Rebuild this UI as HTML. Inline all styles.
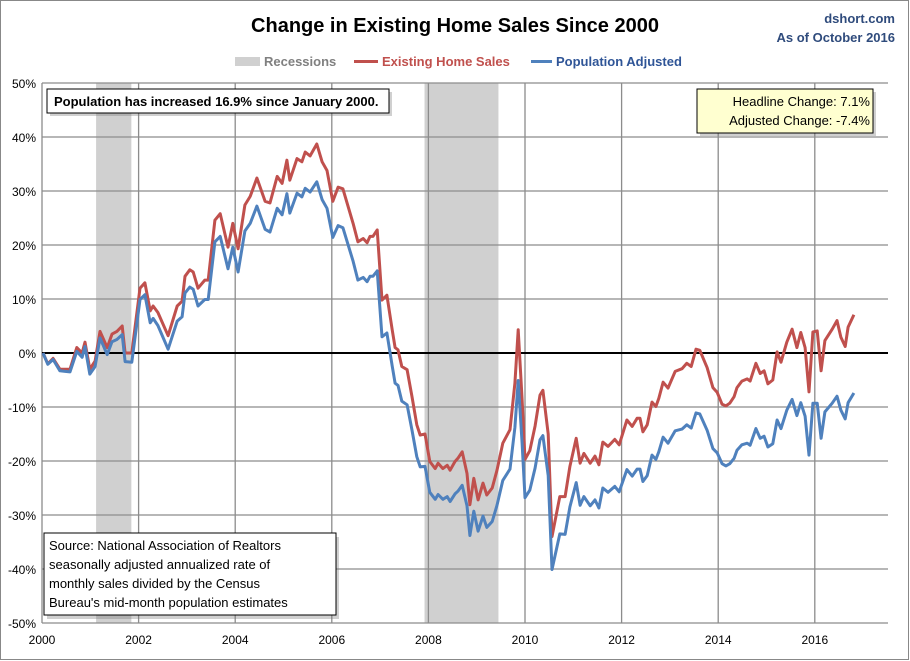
<!DOCTYPE html>
<html><head><meta charset="utf-8"><style>
body{margin:0;background:#fff;}
svg{display:block;font-family:"Liberation Sans",sans-serif;}
</style></head><body>
<svg id="chart" width="910" height="661" xmlns="http://www.w3.org/2000/svg">
<rect x="0.5" y="0.5" width="908" height="659" fill="#fff" stroke="#888"/>
<text x="455" y="32" text-anchor="middle" font-size="20" font-weight="bold" fill="#000">Change in Existing Home Sales Since 2000</text>
<text x="895" y="23" text-anchor="end" font-size="13" font-weight="bold" fill="#2F4B7C">dshort.com</text>
<text x="895" y="42" text-anchor="end" font-size="13" font-weight="bold" fill="#2F4B7C">As of October 2016</text>
<g id="legend">
<rect x="235" y="57" width="25" height="9" fill="#d0d0d0"/>
<text x="264" y="66" font-size="13" font-weight="bold" fill="#808080">Recessions</text>
<line x1="354" y1="61.5" x2="378" y2="61.5" stroke="#C0504D" stroke-width="3"/>
<text x="382" y="66" font-size="13" font-weight="bold" fill="#C0504D">Existing Home Sales</text>
<line x1="531" y1="61.5" x2="552" y2="61.5" stroke="#4F81BD" stroke-width="3"/>
<text x="556" y="66" font-size="13" font-weight="bold" fill="#2F5597">Population Adjusted</text>
</g>
<g id="plot"></g>
<g>
<rect x="50" y="92" width="342" height="24" fill="#777" opacity="0.35"/>
<rect x="47" y="89" width="342" height="24" fill="#fff" stroke="#000" stroke-width="1"/>
<text x="54" y="106" font-size="13" font-weight="bold" fill="#000">Population has increased 16.9% since January 2000.</text>
</g>
<g>
<rect x="700" y="92" width="176" height="44" fill="#777" opacity="0.35"/>
<rect x="697" y="89" width="176" height="44" fill="#FFFFD0" stroke="#000" stroke-width="1"/>
<text x="870" y="106" text-anchor="end" font-size="13" fill="#000">Headline Change: 7.1%</text>
<text x="870" y="125" text-anchor="end" font-size="13" fill="#000">Adjusted Change: -7.4%</text>
</g>
<g>
<rect x="47" y="537" width="292" height="82" fill="#777" opacity="0.35"/>
<rect x="44" y="533" width="292" height="82" fill="#fff" stroke="#000" stroke-width="1"/>
<text x="49" y="550" font-size="13" fill="#000">Source: National Association of Realtors</text>
<text x="49" y="569" font-size="13" fill="#000">seasonally adjusted annualized rate of</text>
<text x="49" y="588" font-size="13" fill="#000">monthly sales divided by the Census</text>
<text x="49" y="607" font-size="13" fill="#000">Bureau's mid-month population estimates</text>
</g>
</svg>
<script>
const recStarts = [2001.12, 2007.92];
const recEnds = [2001.85, 2009.45];
const yTicks = [50,40,30,20,10,0,-10,-20,-30,-40,-50];
const yTickLabels = ["50%","40%","30%","20%","10%","0%","-10%","-20%","-30%","-40%","-50%"];
const xTicks = [2000,2002,2004,2006,2008,2010,2012,2014,2016];
const xTickLabels = ["2000","2002","2004","2006","2008","2010","2012","2014","2016"];
const dates = [2000.02,2000.12,2000.23,2000.37,2000.48,2000.58,2000.72,2000.83,2000.89,2000.99,2001.1,2001.2,2001.35,2001.45,2001.55,2001.66,2001.72,2001.86,2002.03,2002.13,2002.24,2002.3,2002.4,2002.61,2002.8,2002.9,2002.96,2003.06,2003.13,2003.23,2003.37,2003.44,2003.58,2003.69,2003.85,2003.95,2004.06,2004.2,2004.31,2004.45,2004.62,2004.72,2004.87,2004.97,2005.07,2005.13,2005.28,2005.38,2005.45,2005.55,2005.69,2005.8,2005.9,2006.02,2006.13,2006.23,2006.44,2006.54,2006.65,2006.73,2006.79,2006.85,2006.94,2007.04,2007.14,2007.25,2007.31,2007.37,2007.45,2007.56,2007.66,2007.76,2007.83,2007.93,2008.03,2008.14,2008.2,2008.3,2008.39,2008.45,2008.55,2008.61,2008.7,2008.8,2008.86,2008.94,2009.03,2009.13,2009.21,2009.32,2009.42,2009.54,2009.69,2009.79,2009.86,2009.94,2010.0,2010.1,2010.21,2010.31,2010.37,2010.48,2010.56,2010.72,2010.83,2010.93,2011.06,2011.14,2011.22,2011.35,2011.45,2011.53,2011.61,2011.72,2011.86,2011.95,2012.11,2012.22,2012.32,2012.38,2012.44,2012.53,2012.63,2012.71,2012.77,2012.86,2012.96,2013.11,2013.25,2013.35,2013.44,2013.54,2013.62,2013.77,2013.89,2013.98,2014.08,2014.16,2014.24,2014.33,2014.39,2014.49,2014.6,2014.66,2014.78,2014.87,2014.95,2015.03,2015.13,2015.22,2015.3,2015.42,2015.53,2015.63,2015.71,2015.8,2015.88,2015.96,2016.05,2016.13,2016.21,2016.36,2016.46,2016.54,2016.63,2016.69,2016.81];
const headline = [0,-2,-1,-3,-3,-3,1,0,2,-3,-1.5,4,1,3.5,4,5,0,0,12,13,7.8,8.7,7.5,3.2,8.7,9.6,14.2,15.4,15,12,13.5,13.5,24.6,25.8,19.6,24,19.3,27.4,29,32.4,28.1,27.8,32.7,31.4,35.7,32,36,35.4,37.2,36.5,38.7,35.4,33.8,28.1,30.7,30.4,24,20.6,21.2,20.4,21.6,21.6,22.8,9.8,10.7,4.3,1,0.6,-2.5,-3.1,-8.1,-13.3,-15.2,-15,-20.1,-21.4,-20.4,-21.4,-20.8,-21.7,-20.1,-19.5,-18.3,-22.3,-28.1,-23.2,-27.2,-24.1,-26.3,-25,-21.7,-16.7,-14.2,-5.6,4.3,-8.6,-19.7,-18.1,-13.5,-7.8,-6.9,-15,-34,-26.6,-26.6,-21,-15.8,-20.4,-18.6,-20.4,-19.1,-20.7,-16.5,-17.3,-16,-17,-12.4,-13.6,-12.1,-12.1,-14.6,-13.3,-9.1,-9.9,-8.4,-5.4,-6.5,-3.4,-2.9,-1.9,-2.5,0.7,0.5,-2.7,-6.4,-7.3,-9.5,-9.8,-9.3,-8.1,-6.4,-5.2,-4.8,-5.2,-1.9,-3.8,-3.3,-5.7,-5,0.2,-1.7,2,4.4,1,3.8,1,-7.2,3.9,4.1,-3.3,2.3,4.4,6,2.9,1.2,4.8,7.1];
const adjusted = [0,-2.1,-1.2,-3.3,-3.4,-3.5,0.3,-0.8,1.2,-3.9,-2.5,2.8,-0.3,2.1,2.5,3.4,-1.6,-1.7,9.9,10.8,5.6,6.4,5.1,0.7,5.9,6.7,11.1,12.2,11.8,8.7,9.9,9.9,20.6,21.6,15.6,19.6,15,22.6,24,27.2,22.9,22.4,26.8,25.6,29.5,25.9,29.6,28.9,30.5,29.8,31.7,28.4,26.8,21.4,23.6,23.2,17,13.5,14,13.2,14.2,14.2,15.2,3,3.7,-2.4,-5.6,-6,-8.9,-9.6,-14.3,-19.2,-21.1,-21,-25.8,-27.1,-26.2,-27.1,-26.6,-27.5,-26.1,-25.6,-24.5,-28.3,-33.8,-29.3,-33,-30.2,-32.3,-31.2,-28.2,-23.6,-21.5,-13.8,-5.1,-16.7,-26.8,-25.4,-21.3,-16.1,-15.3,-22.7,-40.1,-33.5,-33.6,-28.5,-24,-28.2,-26.6,-28.3,-27.2,-28.7,-25,-25.8,-24.7,-25.7,-21.6,-22.8,-21.5,-21.5,-23.8,-22.7,-18.9,-19.7,-18.3,-15.6,-16.7,-14.4,-14.1,-13.3,-13.9,-11.1,-11.3,-14.3,-17.7,-18.5,-20.5,-20.9,-20.5,-19.5,-18,-17,-16.7,-17.1,-14,-15.8,-15.4,-17.4,-16.8,-12.4,-14,-10.6,-8.6,-11.6,-9.2,-11.7,-18.9,-9.3,-9.3,-15.8,-10.9,-9.3,-8,-10.6,-12.2,-9.2,-7.4];

const NS = "http://www.w3.org/2000/svg";
const L = 42, R = 888, T = 83, B = 623;
function xs(yr){ return L + (yr - 2000) * 48.3; }
function ys(v){ return 353 - v * 5.4; }
const plot = document.getElementById('plot');
function mk(tag, attrs){ const e = document.createElementNS(NS, tag); for (const k in attrs) e.setAttribute(k, attrs[k]); plot.appendChild(e); return e; }

for (let i = 0; i < recStarts.length; i++) {
  const r = mk('rect', {x: xs(recStarts[i]), y: T, width: xs(recEnds[i]) - xs(recStarts[i]), height: B - T, fill: '#d0d0d0'});
  
  
}
for (let i = 0; i < yTicks.length; i++) {
  const y = ys(yTicks[i]);
  if (yTicks[i] !== 0) {
    const g = mk('line', {x1: L, x2: R, y1: y, y2: y, stroke: '#8c8c8c', 'stroke-width': 1.3});
    
    
  }
  const t = mk('text', {x: 36, y: y + 5, 'text-anchor': 'end', 'font-size': 12, fill: '#000'});
  t.textContent = yTickLabels[i];
  
  
}
for (let i = 0; i < xTicks.length; i++) {
  const x = xs(xTicks[i]);
  const g = mk('line', {x1: x, x2: x, y1: T, y2: B, stroke: '#8c8c8c', 'stroke-width': 1.3});
  
  
  const t = mk('text', {x: x, y: 644, 'text-anchor': 'middle', 'font-size': 12, fill: '#000'});
  t.textContent = xTickLabels[i];
  
  
}
const zl = mk('line', {x1: L, x2: R, y1: ys(0), y2: ys(0), stroke: '#000', 'stroke-width': 2});



function series(vals, color, name){
  let d = '';
  for (let i = 0; i < vals.length; i++) d += (i ? 'L' : 'M') + xs(dates[i]).toFixed(1) + ' ' + ys(vals[i]).toFixed(1);
  const p = mk('path', {d: d, fill: 'none', stroke: color, 'stroke-width': 3, 'stroke-linejoin': 'round'});
  
  
}
series(headline, '#C0504D', 'existing-home-sales-line');
series(adjusted, '#4F81BD', 'population-adjusted-line');
</script>
</body></html>
